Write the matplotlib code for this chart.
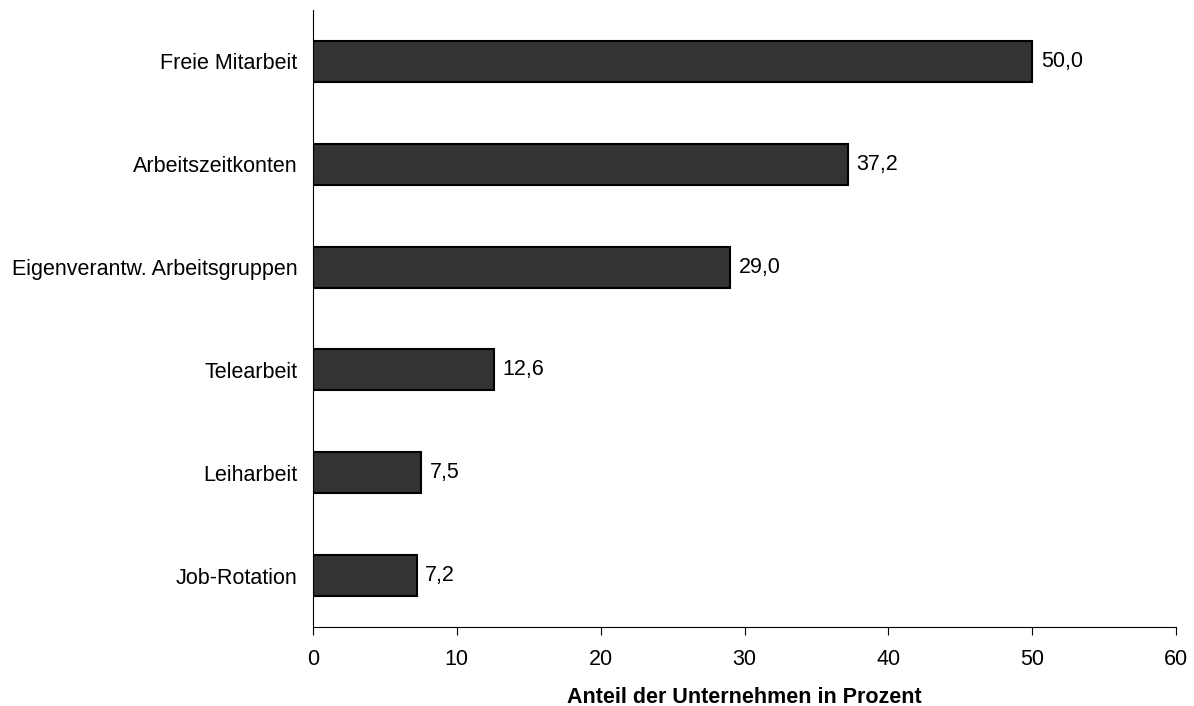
import matplotlib
matplotlib.use("Agg")
from matplotlib import pyplot as plt

# Daten
kategorien = ["Freie Mitarbeit", "Arbeitszeitkonten", "Eigenverantw. Arbeitsgruppen",
              "Telearbeit", "Leiharbeit", "Job-Rotation"]
werte = [50.0, 37.2, 29.0, 12.6, 7.5, 7.2]
x_ticks = [0, 10, 20, 30, 40, 50, 60]

plt.rcParams['font.family'] = ['Liberation Sans', 'DejaVu Sans']
plt.rcParams['font.size'] = 15.5

fig = plt.figure(figsize=(11.94, 7.06), dpi=100)
ax = fig.add_axes([0.2621, 0.1119, 0.7229, 0.8739])

pos = list(range(len(kategorien)))
ax.barh(pos, werte, height=0.4, color="#333333", edgecolor="black", linewidth=1.5)

for p, w in zip(pos, werte):
    ax.text(w + 0.6, p, f"{w:.1f}".replace(".", ","), va="center", ha="left")

ax.set_yticks(pos)
ax.set_yticklabels(kategorien)
ax.set_ylim(len(kategorien) - 0.5, -0.5)
ax.set_xlim(0, 60)
ax.set_xticks(x_ticks)
ax.tick_params(axis="y", length=0, pad=11)
ax.tick_params(axis="x", length=6, direction="out", pad=10)

ax.spines["top"].set_visible(False)
ax.spines["right"].set_visible(False)
ax.spines["left"].set_linewidth(0.8)
ax.spines["bottom"].set_linewidth(0.8)

ax.set_xlabel("Anteil der Unternehmen in Prozent", fontweight="bold", labelpad=12)

fig.savefig("out.png", dpi=100)
